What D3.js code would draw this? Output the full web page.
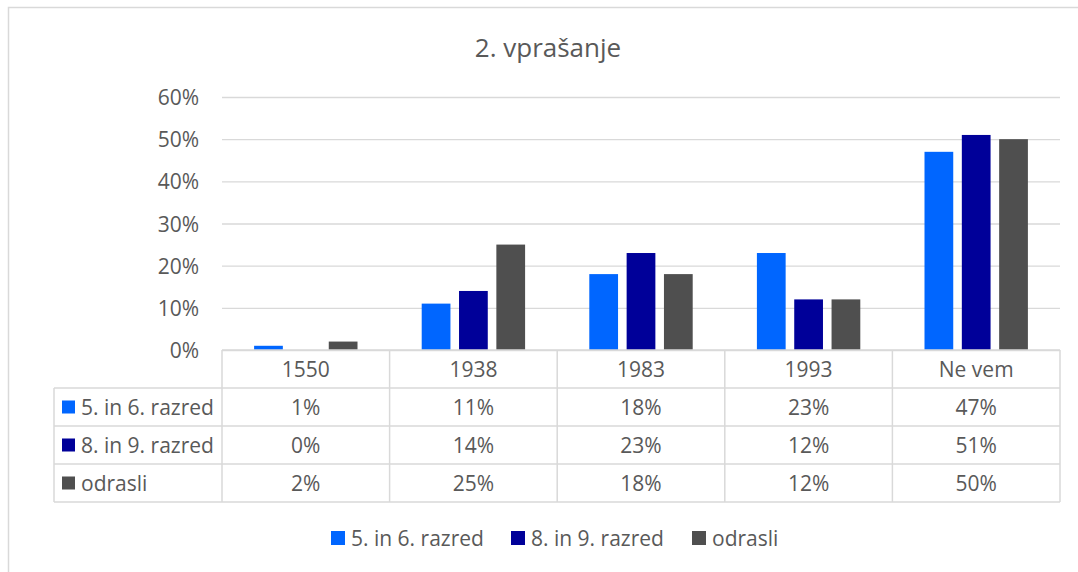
<!DOCTYPE html>
<html>
<head>
<meta charset="utf-8">
<script src="https://cdn.jsdelivr.net/npm/d3@7"></script>
<style>
  body { margin: 0; background: #fff; }
  svg text { font-family: "Open Sans", "Noto Sans", sans-serif; fill: #595959; }
</style>
</head>
<body>
<script>
// data
const categories = ["1550", "1938", "1983", "1993", "Ne vem"];
const seriesNames = ["5. in 6. razred", "8. in 9. razred", "odrasli"];
const grade56 = [0.01, 0.11, 0.18, 0.23, 0.47];
const grade89 = [0.00, 0.14, 0.23, 0.12, 0.51];
const adults = [0.02, 0.25, 0.18, 0.12, 0.50];
const yTicks = [0, 0.1, 0.2, 0.3, 0.4, 0.5, 0.6];
const colors = ["#0066ff", "#000099", "#4f4f4f"];

const seriesValues = [grade56, grade89, adults];

const width = 1078;
const height = 572;
const fontSize = "21px";

const svg = d3.select("body")
    .append("svg")
    .attr("width", width)
    .attr("height", height);

// chart border
svg.append("rect")
    .attr("x", 8.5)
    .attr("y", 7.5)
    .attr("width", 1080)
    .attr("height", 580)
    .attr("fill", "none")
    .attr("stroke", "#d9d9d9")
    .attr("stroke-width", 1.5);

// title
svg.append("text")
    .attr("x", 548)
    .attr("y", 57)
    .attr("text-anchor", "middle")
    .style("font-size", "26px")
    .text("2. vprašanje");

const plotLeft = 222, plotRight = 1060;
const plotTop = 97, plotBottom = 350;

const x0 = d3.scaleBand()
    .domain(categories)
    .range([plotLeft, plotRight]);

const x1 = d3.scaleBand()
    .domain(seriesNames)
    .range([0, x0.bandwidth()])
    .paddingInner(0.23)
    .paddingOuter(0.86);

const y = d3.scaleLinear()
    .domain([0, 0.6])
    .range([plotBottom, plotTop]);

// gridlines + y labels
const yAxis = d3.axisLeft(y)
    .tickValues(yTicks)
    .tickFormat(d3.format(".0%"))
    .tickSize(-(plotRight - plotLeft))
    .tickPadding(23);

const yg = svg.append("g")
    .attr("transform", "translate(" + plotLeft + ",0)")
    .call(yAxis);
yg.select(".domain").remove();
yg.selectAll(".tick line")
    .attr("stroke", "#d9d9d9")
    .attr("stroke-width", 1.3);
yg.selectAll(".tick text")
    .style("font-size", fontSize)
    .style("font-family", "'Open Sans', sans-serif")
    .attr("fill", "#595959")
    .attr("dy", "0.36em");

// bars
const groups = svg.selectAll(".cat")
    .data(categories)
    .enter()
    .append("g")
    .attr("class", "cat")
    .attr("transform", function (d) { return "translate(" + x0(d) + ",0)"; });

groups.selectAll("rect")
    .data(function (d, i) {
        return seriesNames.map(function (s, j) {
            return { series: s, value: seriesValues[j][i], color: colors[j] };
        });
    })
    .enter()
    .append("rect")
    .attr("x", function (d) { return x1(d.series); })
    .attr("y", function (d) { return y(d.value); })
    .attr("width", x1.bandwidth())
    .attr("height", function (d) { return plotBottom - y(d.value); })
    .attr("fill", function (d) { return d.color; });

// data table
const rowH = 38;
const tableLeft = 54;
const tableTop = plotBottom;
const line = svg.append("g")
    .attr("stroke", "#d9d9d9")
    .attr("stroke-width", 1.5);

// horizontal lines
line.append("line")
    .attr("x1", plotLeft).attr("x2", plotRight)
    .attr("y1", tableTop).attr("y2", tableTop);
for (let r = 1; r <= 4; r++) {
    line.append("line")
        .attr("x1", tableLeft).attr("x2", plotRight)
        .attr("y1", tableTop + r * rowH).attr("y2", tableTop + r * rowH);
}
// vertical lines
line.append("line")
    .attr("x1", tableLeft).attr("x2", tableLeft)
    .attr("y1", tableTop + rowH).attr("y2", tableTop + 4 * rowH);
categories.concat(["end"]).forEach(function (c) {
    const xx = c === "end" ? plotRight : x0(c);
    line.append("line")
        .attr("x1", xx).attr("x2", xx)
        .attr("y1", tableTop).attr("y2", tableTop + 4 * rowH);
});

// header labels
svg.selectAll(".hdr")
    .data(categories)
    .enter()
    .append("text")
    .attr("class", "hdr")
    .attr("x", function (d) { return x0(d) + x0.bandwidth() / 2; })
    .attr("y", tableTop + rowH / 2)
    .attr("dy", "0.36em")
    .attr("text-anchor", "middle")
    .style("font-size", fontSize)
    .text(function (d) { return d; });

// rows
seriesNames.forEach(function (s, j) {
    const cy = tableTop + (j + 1.5) * rowH;
    svg.append("rect")
        .attr("x", 62)
        .attr("y", cy - 6.5)
        .attr("width", 13)
        .attr("height", 13)
        .attr("fill", colors[j]);
    svg.append("text")
        .attr("x", 81)
        .attr("y", cy)
        .attr("dy", "0.36em")
        .style("font-size", fontSize)
        .text(s);
    svg.selectAll(".cell" + j)
        .data(seriesValues[j])
        .enter()
        .append("text")
        .attr("x", function (d, i) { return x0(categories[i]) + x0.bandwidth() / 2; })
        .attr("y", cy)
        .attr("dy", "0.36em")
        .attr("text-anchor", "middle")
        .style("font-size", fontSize)
        .text(function (d) { return d3.format(".0%")(d); });
});

// legend
const legendX = [331, 511, 692];
const legend = svg.selectAll(".legend")
    .data(seriesNames)
    .enter()
    .append("g")
    .attr("class", "legend")
    .attr("transform", function (d, i) { return "translate(" + legendX[i] + ",538)"; });

legend.append("rect")
    .attr("x", 0)
    .attr("y", -7)
    .attr("width", 14)
    .attr("height", 14)
    .attr("fill", function (d, i) { return colors[i]; });

legend.append("text")
    .attr("x", 20)
    .attr("y", 0)
    .attr("dy", "0.36em")
    .style("font-size", fontSize)
    .text(function (d) { return d; });
</script>
</body>
</html>
